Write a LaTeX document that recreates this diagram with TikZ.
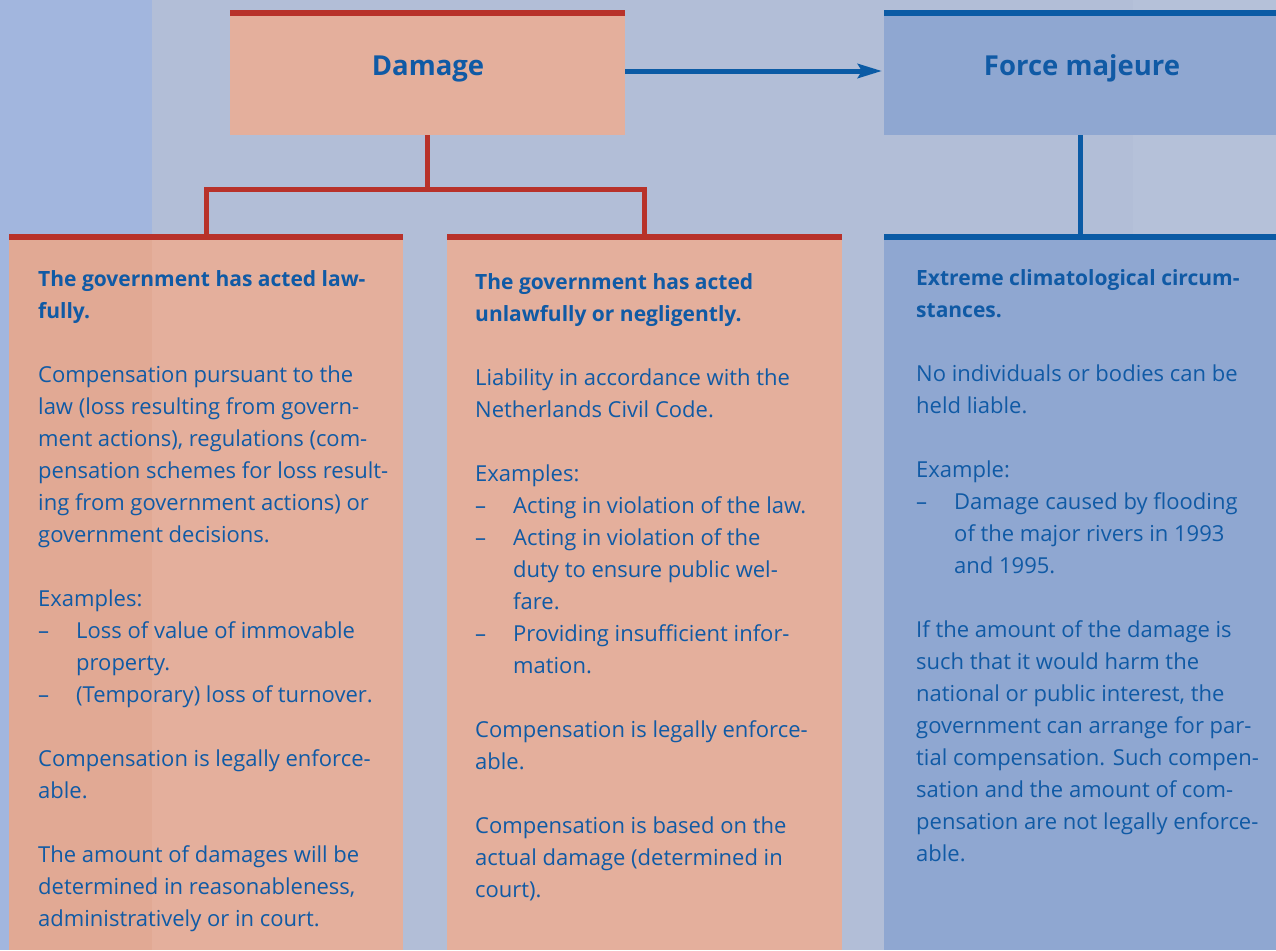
\documentclass[tikz,border=0pt]{standalone}
\usepackage{fontspec}
\setmainfont{Open Sans}
\usetikzlibrary{arrows.meta}
\definecolor{bgmain}{HTML}{B2BED7}
\definecolor{bgleft}{HTML}{A2B6DE}
\definecolor{bgright}{HTML}{B5C1D9}
\definecolor{salmon}{HTML}{E4AF9C}
\definecolor{salmondark}{HTML}{E1A994}
\definecolor{redln}{HTML}{B8322A}
\definecolor{bluebox}{HTML}{8FA7D1}
\definecolor{blueln}{HTML}{0B5BA5}
\definecolor{txtblue}{HTML}{105AA5}
\newcommand\ttl[1]{{\fontsize{21}{32}\selectfont\bfseries #1}}
\newcommand\dsh{\makebox[38pt][l]{--}}
\newcommand\ind{\hspace*{38pt}}
\begin{document}
\begin{tikzpicture}[x=1pt,y=-1pt,
  box/.style={rectangle, inner sep=0pt, outer sep=0pt, anchor=north west, draw=none},
  salbox/.style={box, fill=salmon},
  blubox/.style={box, fill=bluebox},
  redline/.style={draw=redln, line width=5pt, line join=miter},
  blueline/.style={draw=blueln, line width=5pt},
  head/.style={inner sep=0pt, anchor=base, text=txtblue, font=\fontsize{27.5}{30}\selectfont\bfseries},
  body/.style={inner sep=0pt, anchor=north west, align=left, text=txtblue, font=\fontsize{22}{32}\selectfont},
]
\useasboundingbox (0,0) rectangle (1276,950);
% background
\fill[bgmain] (0,0) rectangle (1276,950);
\fill[bgleft] (0,0) rectangle (152,950);
\fill[bgright] (1133,0) rectangle (1276,234);
% boxes
\node[salbox, minimum width=395pt, minimum height=125pt] (damage) at (230,10) {};
\node[blubox, minimum width=392pt, minimum height=125pt] (force) at (884,10) {};
\node[salbox, minimum width=394pt, minimum height=716pt] (law) at (9,234) {};
\node[salbox, minimum width=395pt, minimum height=716pt] (unlaw) at (447,234) {};
\node[blubox, minimum width=392pt, minimum height=716pt] (climate) at (884,234) {};
\fill[salmondark] (law.north west) rectangle (152,950);
% top bars
\fill[redln] (damage.north west) rectangle ([yshift=-6pt]damage.north east);
\fill[blueln] (force.north west) rectangle ([yshift=-6pt]force.north east);
\fill[redln] (law.north west) rectangle ([yshift=-6pt]law.north east);
\fill[redln] (unlaw.north west) rectangle ([yshift=-6pt]unlaw.north east);
\fill[blueln] (climate.north west) rectangle ([yshift=-6pt]climate.north east);
% connectors
\coordinate (hub) at (427.5,189.5);
\draw[redline] (damage.south) -- (hub);
\draw[redline] (law.north) |- (hub) -| (unlaw.north);
\draw[blueline] (force.south) -- (climate.north);
\draw[blueline, -{Stealth[length=24pt,width=14pt,inset=4pt]}, shorten >=2pt]
  ([yshift=1.5pt]damage.east) -- ([yshift=1.5pt]force.west);
% headings
\node[head] (damagelbl) at (428,75) {Damage};
\node[head] (forcelbl) at (1082,75) {Force majeure};
% texts
\node[body] (lawtxt) at (38,263.6) {\strut\ttl{The government has acted law-}\\
\ttl{fully.}\\
\mbox{}\\
Compensation pursuant to the\\
law (loss resulting from govern-\\
ment actions), regulations (com-\\
pensation schemes for loss result-\\
ing from government actions) or\\
government decisions.\\
\mbox{}\\
Examples:\\
\dsh Loss of value of immovable\\
\ind property.\\
\dsh (Temporary) loss of turnover.\\
\mbox{}\\
Compensation is legally enforce-\\
able.\\
\mbox{}\\
The amount of damages will be\\
determined in reasonableness,\\
administratively or in court.};
\node[body] (unlawtxt) at (475,266.6) {\strut\ttl{The government has acted}\\
\ttl{unlawfully or negligently.}\\
\mbox{}\\
Liability in accordance with the\\
Netherlands Civil Code.\\
\mbox{}\\
Examples:\\
\dsh Acting in violation of the law.\\
\dsh Acting in violation of the\\
\ind duty to ensure public wel-\\
\ind fare.\\
\dsh Providing insufficient infor-\\
\ind mation.\\
\mbox{}\\
Compensation is legally enforce-\\
able.\\
\mbox{}\\
Compensation is based on the\\
actual damage (determined in\\
court).};
\node[body] (climatetxt) at (916,262.6) {\strut\ttl{Extreme climatological circum-}\\
\ttl{stances.}\\
\mbox{}\\
No individuals or bodies can be\\
held liable.\\
\mbox{}\\
Example:\\
\dsh Damage caused by flooding\\
\ind of the major rivers in 1993\\
\ind and 1995.\\
\mbox{}\\
If the amount of the damage is\\
such that it would harm the\\
national or public interest, the\\
government can arrange for par-\\
tial compensation. Such compen-\\
sation and the amount of com-\\
pensation are not legally enforce-\\
able.};
\end{tikzpicture}
\end{document}
